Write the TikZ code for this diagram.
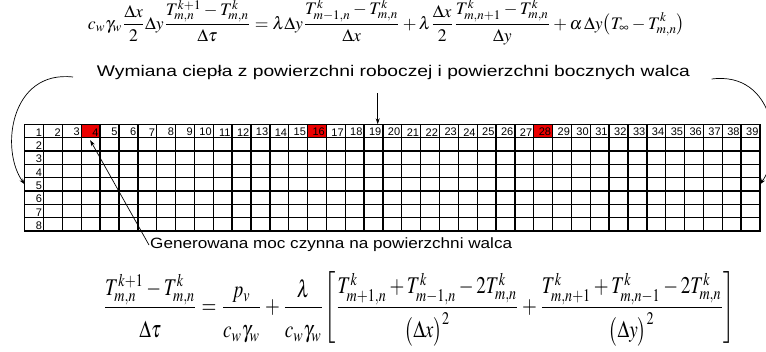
\documentclass[tikz,border=0pt]{standalone}
\usepackage{mathptmx}
\usepackage[no-math]{fontspec}
\newfontfamily\arialf{Liberation Sans}
\usepackage{graphicx}
\usetikzlibrary{arrows.meta,calc}

\definecolor{cellred}{RGB}{235,0,0}
% extra room above and below a fraction bar
\newcommand\numgap{\vrule width 0pt depth 1.5pt\relax}
\newcommand\dengap{\vrule width 0pt height 11pt\relax}

\begin{document}
\begin{tikzpicture}[x=1pt,y=-1pt,
  cell/.style={draw, line width=1.4pt, minimum width=18.854pt, minimum height=13.34pt,
               inner sep=0pt, outer sep=0pt, anchor=north west},
  num/.style={font=\arialf\fontsize{11}{11}\selectfont, inner xsep=1.4pt, inner ysep=1.4pt, anchor=south east},
  lbl/.style={font=\arialf\fontsize{15}{18}\selectfont, inner sep=1pt},
  conn/.style={line width=0.7pt, -{Stealth[length=6pt,width=4pt]}},
]
\useasboundingbox (0,0) rectangle (766,351);

% balance equation for a surface node
\node[inner sep=0pt] (eqtop) at (386.5,22) {\resizebox{597pt}{!}{$\displaystyle
  c_w\gamma_w\frac{\Delta x}{2}\Delta y\frac{T_{m,n}^{k+1}-T_{m,n}^{k}}{\Delta\tau}
  =\lambda\Delta y\frac{T_{m-1,n}^{k}-T_{m,n}^{k}}{\Delta x}
  +\lambda\frac{\Delta x}{2}\frac{T_{m,n+1}^{k}-T_{m,n}^{k}}{\Delta y}
  +\alpha\,\Delta y\bigl(T_\infty-T_{m,n}^{k}\bigr)$}};

\node[lbl] (title) at (393.5,73) {\resizebox{593pt}{11.2pt}{Wymiana ciepła z powierzchni roboczej i powierzchni bocznych walca}};

% heated cells of the first row
\foreach \c in {4,16,28}
  \fill[cellred] ({24.7+(\c-1)*18.854},124.3) rectangle +(18.854,13.34);

% the grid
\foreach \c in {1,...,39}{
  \foreach \r in {1,...,8}{
    \node[cell] (c\c-\r) at ({24.7+(\c-1)*18.854},{124.3+(\r-1)*13.34}) {};
  }
}
\foreach \c in {1,...,39}
  \node[num] (n\c) at (c\c-1.south east) {\c};
\foreach \r in {2,...,8}
  \node[num] (r\r) at (c1-\r.south east) {\r};

\node[lbl, anchor=west] (gen) at (149,245) {\resizebox{362pt}{10.8pt}{Generowana moc czynna na powierzchni walca}};

% interior node equation
\node[inner sep=0pt] (eqbot) at (419,309) {\resizebox*{632pt}{74pt}{$\displaystyle
  \frac{T_{m,n}^{k+1}-T_{m,n}^{k}\numgap}{\dengap\Delta\tau}
  =\frac{p_v\numgap}{\dengap c_w\gamma_w}+\frac{\lambda\numgap}{\dengap c_w\gamma_w}
  \!\left[\frac{T_{m+1,n}^{k}+T_{m-1,n}^{k}-2T_{m,n}^{k}\numgap}{\dengap\bigl(\Delta x\bigr)^2}
  +\frac{T_{m,n+1}^{k}+T_{m,n-1}^{k}-2T_{m,n}^{k}\numgap}{\dengap\bigl(\Delta y\bigr)^2}\right]$}};

% connectors
\coordinate (lstart) at (73,77);
\coordinate (rstart) at (711.7,79);
\coordinate (ctop) at (377.7,93);
\draw[conn] (lstart) .. controls (10,70) and (0,150) .. (c1-5.west);
\draw[conn] (rstart) .. controls (774.7,71) and (784.7,150) .. (c39-5.east);
\draw[conn] (ctop) -- (ctop |- c19-1.north);
\draw[conn] (gen.west) -- ($(c4-2.north)+(-0.5,2.5)$);
\end{tikzpicture}
\end{document}
